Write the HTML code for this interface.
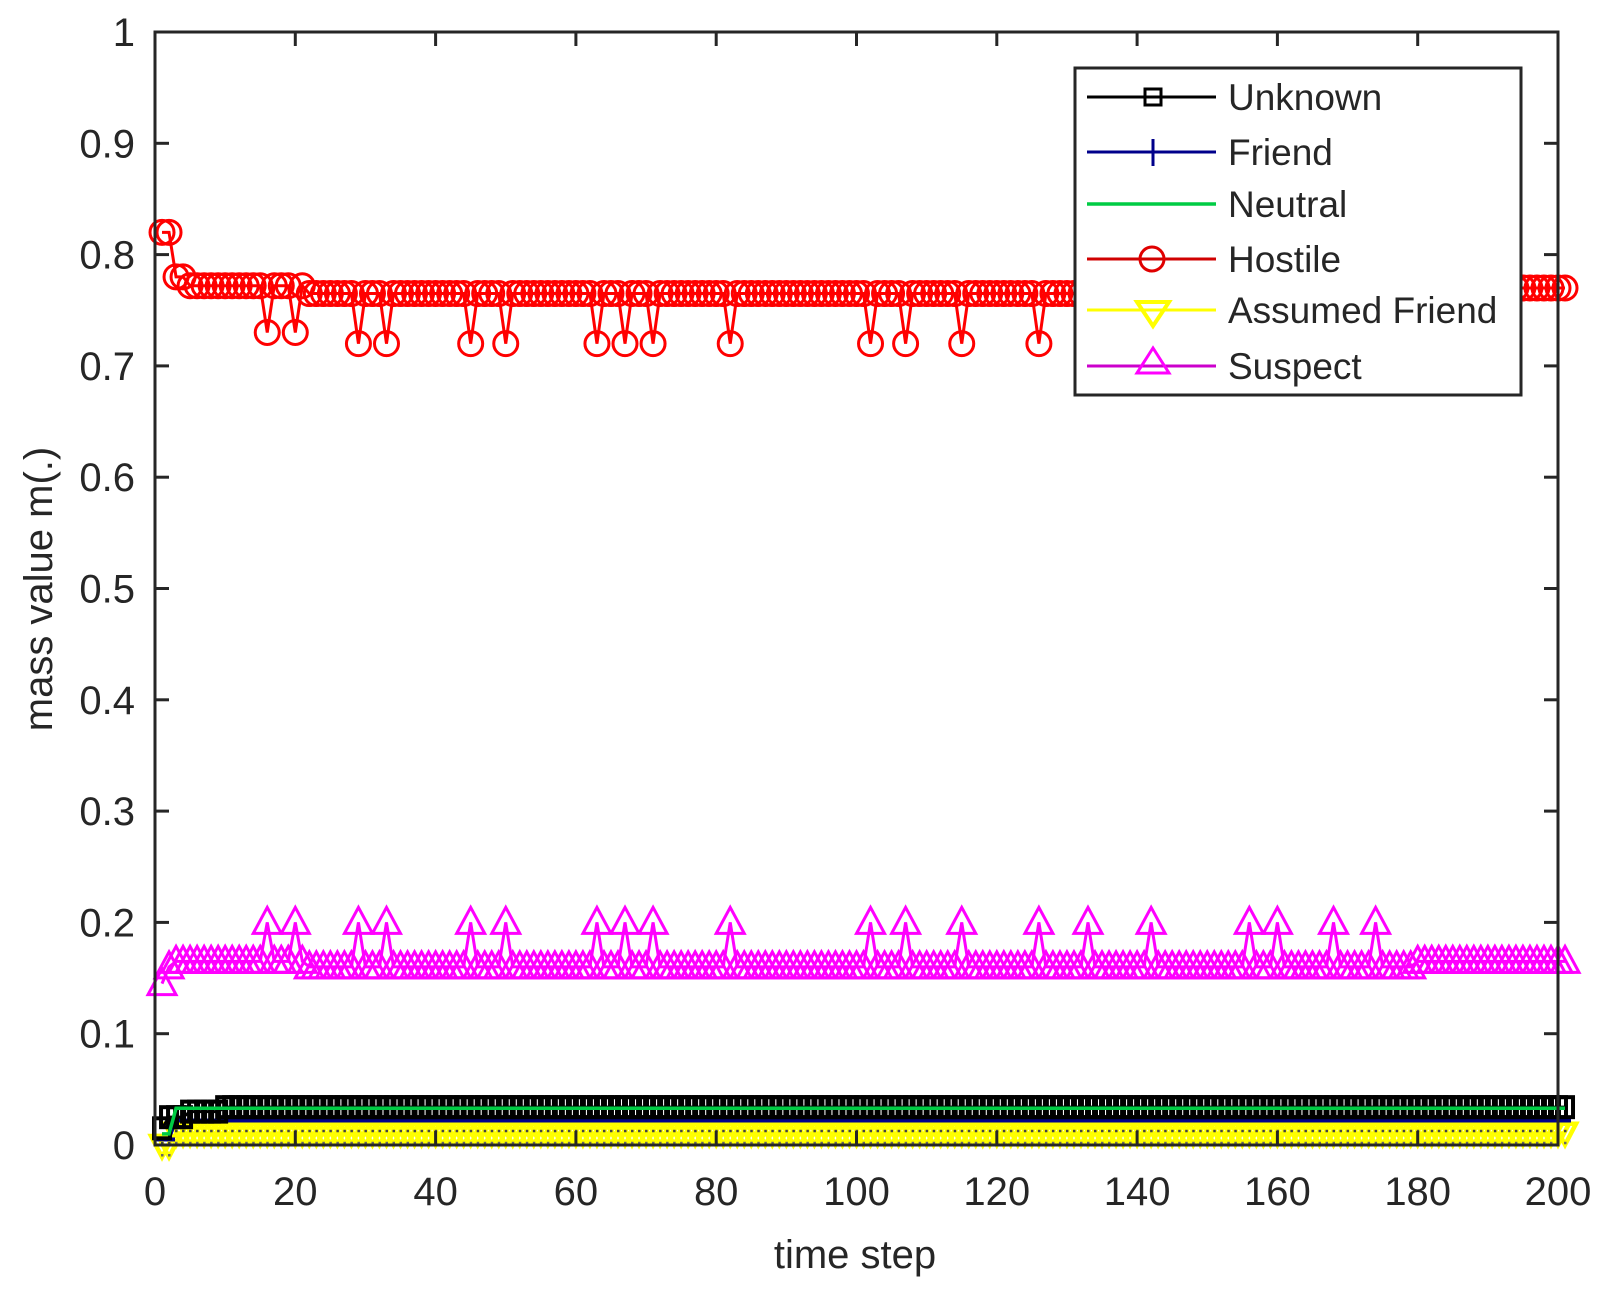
<!DOCTYPE html>
<html><head><meta charset="utf-8"><style>
html,body{margin:0;padding:0;background:#fff;}
svg{display:block;font-family:"Liberation Sans",Arial,sans-serif;}
</style></head><body>
<svg id="s" width="1606" height="1303" xmlns="http://www.w3.org/2000/svg">
<rect width="1606" height="1303" fill="#fff"/>
<g id="data"></g>
<rect x="155" y="32" width="1403" height="1113" fill="none" stroke="#262626" stroke-width="3"/>
<g id="ticks" stroke="#262626" stroke-width="3"></g>
<g id="labels" fill="#262626" font-size="40"></g>
<text x="855" y="1268" font-size="40" fill="#262626" text-anchor="middle">time step</text>
<text transform="translate(52,589) rotate(-90)" font-size="40" fill="#262626" text-anchor="middle">mass value m(.)</text>
<g>
<rect x="1075" y="68" width="446" height="327" fill="#fff" stroke="#262626" stroke-width="3"/>
<line x1="1087" y1="97" x2="1216" y2="97" stroke="#000" stroke-width="3"/>
<rect x="1145" y="89" width="16" height="16" fill="none" stroke="#000" stroke-width="3"/>
<line x1="1087" y1="152" x2="1216" y2="152" stroke="#00008b" stroke-width="3"/>
<line x1="1153" y1="139" x2="1153" y2="166" stroke="#00008b" stroke-width="3"/>
<line x1="1087" y1="204" x2="1216" y2="204" stroke="#00cc44" stroke-width="3.5"/>
<line x1="1087" y1="259" x2="1216" y2="259" stroke="#d00000" stroke-width="3"/>
<circle cx="1152" cy="259" r="12" fill="none" stroke="#e00000" stroke-width="3"/>
<line x1="1087" y1="310" x2="1216" y2="310" stroke="#ffff00" stroke-width="3"/>
<polygon points="1137,302 1169,302 1153,326" fill="none" stroke="#ffff00" stroke-width="4"/>
<line x1="1087" y1="366" x2="1216" y2="366" stroke="#cc00cc" stroke-width="3"/>
<polygon points="1137,373 1169,373 1153,348" fill="none" stroke="#ff00ff" stroke-width="3"/>
<g font-size="37" fill="#262626">
<text x="1228" y="110">Unknown</text>
<text x="1228" y="165">Friend</text>
<text x="1228" y="217">Neutral</text>
<text x="1228" y="272">Hostile</text>
<text x="1228" y="323">Assumed Friend</text>
<text x="1228" y="379">Suspect</text>
</g>
</g>
<script>
var NS="http://www.w3.org/2000/svg";
function X(t){return 155+t*7.015;}
function Y(v){return 1145-v*1113;}
function el(p,n,a){var e=document.createElementNS(NS,n);for(var k in a)e.setAttribute(k,a[k]);p.appendChild(e);return e;}
var tk=document.getElementById('ticks'),lb=document.getElementById('labels');
for(var i=0;i<=10;i++){var y=Y(i/10);
 el(tk,'line',{x1:155,y1:y,x2:169,y2:y});el(tk,'line',{x1:1558,y1:y,x2:1544,y2:y});
 var t=el(lb,'text',{x:135,y:y+14,'text-anchor':'end'});t.textContent=(i==0?'0':i==10?'1':'0.'+i);}
for(var i=0;i<=10;i++){var x=X(i*20);
 el(tk,'line',{x1:x,y1:1145,x2:x,y2:1131});el(tk,'line',{x1:x,y1:32,x2:x,y2:46});
 var t=el(lb,'text',{x:x,y:1205,'text-anchor':'middle'});t.textContent=String(i*20);}
var spH=[16,20,29,33,45,50,63,67,71,82,102,107,115,126,133,142,156,160,168,174];
var H=[],S=[],U=[],G=[],B=[],Yl=[];
for(var t=1;t<=201;t++){
 var h,s,u;
 if(t<=2){h=0.82;s=t==1?0.145:0.16;}else if(t<=4){h=0.78;s=0.165;}
 else if(t<22){h=0.772;s=0.165;}else if(t<180){h=0.765;s=0.16;}else{h=0.77;s=0.165;}
 if(spH.indexOf(t)>=0){h=(t<22)?0.73:0.72;s=0.2;}
 u=t<2?0.015:t<5?0.025:t<10?0.03:0.034;
 H.push([t,h]);S.push([t,s]);U.push([t,u]);G.push([t,t<3?0.01:0.033]);B.push([t,t<3?0.005:0.022]);Yl.push([t,t<3?0.0:0.011]);
}
var d=document.getElementById('data');
function line(arr,c,w){el(d,'polyline',{points:arr.map(function(p){return X(p[0])+','+Y(p[1]);}).join(' '),fill:'none',stroke:c,'stroke-width':w});}
line(Yl,'#ffff00',3);
Yl.forEach(function(p){var x=X(p[0]),y=Y(p[1]);el(d,'polygon',{points:(x-11)+','+(y-9)+' '+(x+11)+','+(y-9)+' '+x+','+(y+12),fill:'none',stroke:'#ffff00','stroke-width':4.5});});
Yl.forEach(function(p){var x=X(p[0]),y=Y(p[1]);el(d,'rect',{x:x-1,y:y-3,width:2.5,height:2.5,fill:'#444'});el(d,'rect',{x:x-1,y:y+9,width:2.5,height:2.5,fill:'#666'});});
line(B,'#00008b',3);
B.forEach(function(p){var x=X(p[0]),y=Y(p[1]);el(d,'line',{x1:x-6,y1:y,x2:x+6,y2:y,stroke:'#00008b','stroke-width':4});});
line(U,'#000',3);
U.forEach(function(p){var x=X(p[0]),y=Y(p[1]);el(d,'rect',{x:x-8,y:y-10,width:16,height:20,fill:'none',stroke:'#000','stroke-width':4});});
line(G,'#00cc44',3.5);
line(S,'#ff00ff',3);
S.forEach(function(p){var x=X(p[0]),y=Y(p[1]);el(d,'polygon',{points:(x-14)+','+(y+11)+' '+(x+14)+','+(y+11)+' '+x+','+(y-15),fill:'none',stroke:'#ff00ff','stroke-width':3});});
line(H,'#ff0000',3);
H.forEach(function(p){var x=X(p[0]),y=Y(p[1]);el(d,'circle',{cx:x,cy:y,r:12,fill:'none',stroke:'#ff0000','stroke-width':3});});
</script>
</svg>
</body></html>
